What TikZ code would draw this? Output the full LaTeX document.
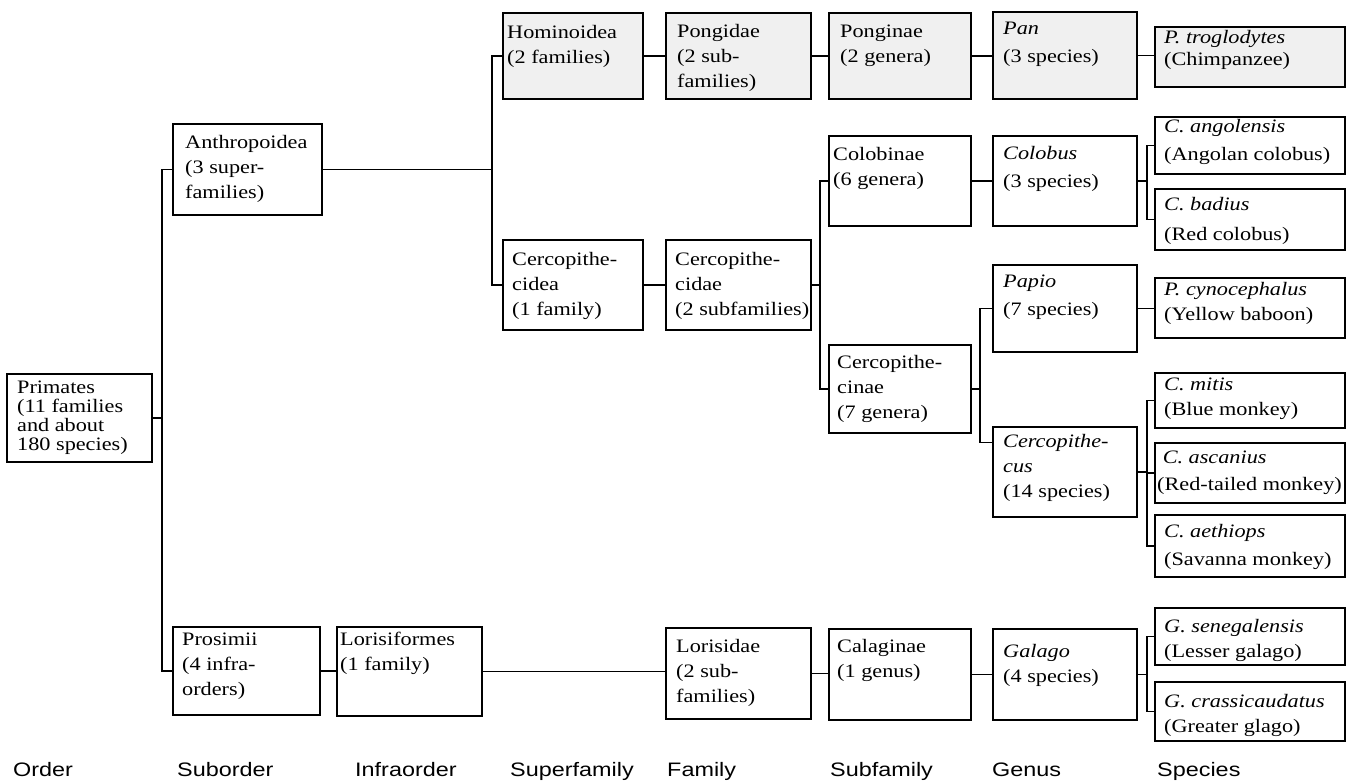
\documentclass[tikz,border=0pt]{standalone}
\usepackage{fontspec}
\setmainfont{Liberation Serif}[FakeStretch=1.17]
\setsansfont{Liberation Sans}[FakeStretch=1.2]
\usetikzlibrary{fit,calc}
\tikzset{
  box/.style={draw, line width=1.4pt, inner sep=0pt},
  shaded/.style={fill=black!6},
  lbl/.style={anchor=north west, inner sep=0pt, align=left, font=\fontsize{19}{25}\selectfont},
  rank/.style={anchor=base west, inner sep=0pt, font=\sffamily\fontsize{19.5}{22}\selectfont},
  link/.style={line width=1.4pt}
}
% name, x1, y1, x2, y2, dx, dy(first baseline), text, box options
\newcommand\bx[9]{%
  \node[box,#9,fit={(#2,#3)(#4,#5)}] (#1) {};
  \node[lbl] (#1t) at ({#2+#6},{#3+#7-15}) {\rule{0pt}{15pt}#8};}
\begin{document}
\begin{tikzpicture}[x=1pt,y=-1pt]
\useasboundingbox (0,0) rectangle (1354,784);
% order / suborder
\bx{prim}{7}{374}{152}{462}{10}{19}{Primates\\[-6pt](11 families\\[-6pt]and about\\[-6pt]180 species)}{}
\bx{anth}{173}{124}{322}{215}{12}{24}{Anthropoidea\\(3 super-\\families)}{}
\bx{pros}{173}{627}{320}{715}{9}{18}{Prosimii\\(4 infra-\\orders)}{}
\bx{lorf}{337}{627}{482}{716}{3}{18}{Lorisiformes\\(1 family)}{}
% top row (shaded)
\bx{hom}{503}{13}{643}{99}{4}{25}{Hominoidea\\(2 families)}{shaded}
\bx{pong}{666}{13}{811}{99}{11}{24}{Pongidae\\(2 sub-\\families)}{shaded}
\bx{pgn}{829}{13}{971}{99}{11}{24}{Ponginae\\(2 genera)}{shaded}
\bx{pan}{993}{12}{1137}{99}{10}{22}{\textit{Pan}\\[3pt] (3 species)}{shaded}
\bx{ptro}{1155}{27}{1345}{87}{9}{16}{\textit{P. troglodytes}\\[-3pt](Chimpanzee)}{shaded}
% Cercopithecoidea branch
\bx{cea}{503}{240}{643}{330}{9}{25}{Cercopithe-\\cidea\\(1 family)}{}
\bx{cae}{666}{240}{811}{330}{9}{25}{Cercopithe-\\cidae\\(2 subfamilies)}{}
\bx{colb}{829}{136}{971}{226}{4}{24}{Colobinae\\(6 genera)}{}
\bx{colo}{993}{136}{1137}{226}{10}{23}{\textit{Colobus}\\[3pt] (3 species)}{}
\bx{ango}{1155}{117}{1345}{174}{9}{15}{\textit{C. angolensis}\\[3pt](Angolan colobus)}{}
\bx{badi}{1155}{189}{1345}{250}{9}{21}{\textit{C. badius}\\[5pt](Red colobus)}{}
\bx{cin}{829}{345}{971}{433}{8}{23}{Cercopithe-\\cinae\\(7 genera)}{}
\bx{papio}{993}{265}{1137}{352}{10}{22}{\textit{Papio}\\[3pt](7 species)}{}
\bx{cyno}{1155}{278}{1345}{338}{9}{17}{\textit{P. cynocephalus}\\(Yellow baboon)}{}
\bx{cerc}{993}{427}{1137}{517}{10}{20}{\textit{Cercopithe-}\\\textit{cus}\\(14 species)}{}
\bx{mitis}{1155}{373}{1345}{428}{9}{17}{\textit{C. mitis}\\(Blue monkey)}{}
\bx{asca}{1155}{443}{1345}{503}{2}{20}{\ \textit{C. ascanius}\\[2pt](Red-tailed monkey)}{}
\bx{aeth}{1155}{515}{1345}{577}{9}{22}{\textit{C. aethiops}\\[3pt](Savanna monkey)}{}
% Prosimian branch
\bx{lor}{666}{628}{811}{719}{10}{24}{Lorisidae\\(2 sub-\\families)}{}
\bx{cal}{829}{629}{971}{720}{8}{23}{Calaginae\\(1 genus)}{}
\bx{gal}{993}{629}{1137}{720}{10}{28}{\textit{Galago}\\(4 species)}{}
\bx{sene}{1155}{608}{1345}{665}{9}{24}{\textit{G. senegalensis}\\(Lesser galago)}{}
\bx{cras}{1155}{682}{1345}{741}{9}{25}{\textit{G. crassicaudatus}\\(Greater glago)}{}
% bus positions
\coordinate (b1) at (162,0);
\coordinate (b2) at (492,0);
\coordinate (b3) at (820,0);
\coordinate (b5) at (980,0);
\coordinate (b4) at (1147,0);
\coordinate (cc) at ([yshift=-16pt]cerc.north west);
% connectors
\draw[link] (prim.east) -- (prim.east -| b1);
\draw[link] (anth.west) -- (anth.west -| b1) -- (pros.west -| b1) -- (pros.west);
\draw[link] (anth.east) -- (anth.east -| b2);
\draw[link] (hom.west) -- (hom.west -| b2) -- (cea.west -| b2) -- (cea.west);
\draw[link] (hom.east) -- (hom.east -| pong.west);
\draw[link] (pong.east) -- (pong.east -| pgn.west);
\draw[link] (pgn.east) -- (pgn.east -| pan.west);
\draw[link] (pan.east) -- (pan.east -| ptro.west);
\draw[link] (cea.east) -- (cea.east -| cae.west);
\draw[link] (cae.east) -- (cae.east -| b3);
\draw[link] (colb.west) -- (colb.west -| b3) -- (cin.west -| b3) -- (cin.west);
\draw[link] (colb.east) -- (colb.east -| colo.west);
\draw[link] (colo.east) -- (colo.east -| b4);
\draw[link] (ango.west) -- (ango.west -| b4) -- (badi.west -| b4) -- (badi.west);
\draw[link] (cin.east) -- (cin.east -| b5);
\draw[link] (papio.west) -- (papio.west -| b5) -- (cc -| b5) -- (cc);
\draw[link] (papio.east) -- (papio.east -| cyno.west);
\draw[link] (cerc.east) -- (cerc.east -| b4);
\draw[link] (mitis.west) -- (mitis.west -| b4) -- (aeth.west -| b4) -- (aeth.west);
\draw[link] (asca.west) -- (asca.west -| b4);
\draw[link] (pros.east) -- (pros.east -| lorf.west);
\draw[link] (lorf.east) -- (lorf.east -| lor.west);
\draw[link] (lor.east) -- (lor.east -| cal.west);
\draw[link] (cal.east) -- (cal.east -| gal.west);
\draw[link] (gal.east) -- (gal.east -| b4);
\draw[link] (sene.west) -- (sene.west -| b4) -- (cras.west -| b4) -- (cras.west);
% rank labels
\node[rank] (rOrder) at (13,776) {Order};
\node[rank] (rSub) at (177,776) {Suborder};
\node[rank] (rInfra) at (355,776) {Infraorder};
\node[rank] (rSuper) at (510,776) {Superfamily};
\node[rank] (rFam) at (667,776) {Family};
\node[rank] (rSubf) at (830,776) {Subfamily};
\node[rank] (rGen) at (992,776) {Genus};
\node[rank] (rSpec) at (1157,776) {Species};
\end{tikzpicture}
\end{document}
